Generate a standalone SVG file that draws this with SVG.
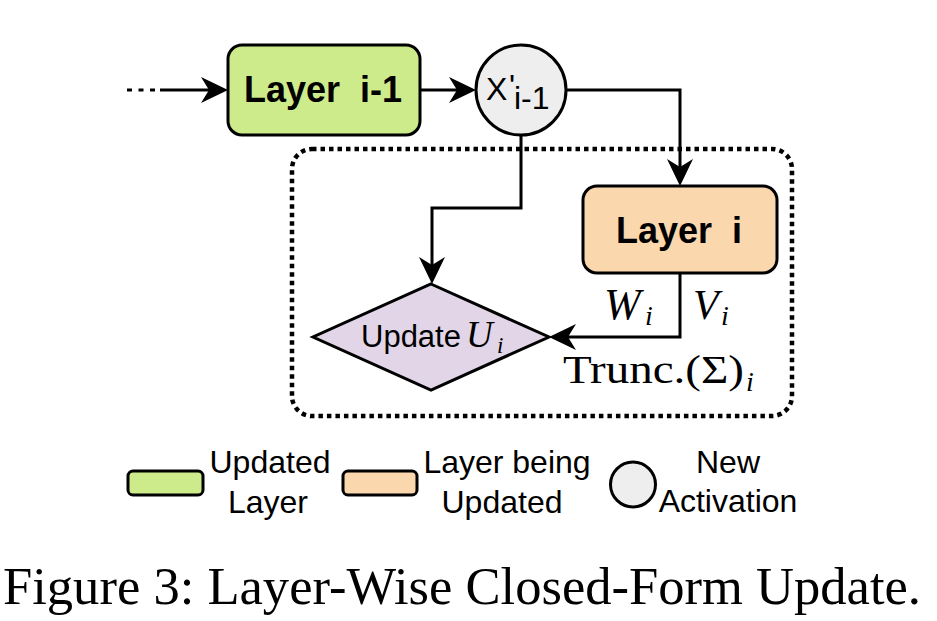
<svg xmlns="http://www.w3.org/2000/svg" width="937" height="621" viewBox="0 0 937 621">
<style>
.sans{font-family:"Liberation Sans",Arial,sans-serif;fill:#000}
.bold{font-weight:bold;font-size:36px;white-space:pre}
.math{font-family:"Liberation Serif","Times New Roman",serif;font-style:italic;fill:#000}
.rm{font-family:"Liberation Serif","Times New Roman",serif;fill:#000}
.node{stroke:#000;stroke-width:3}
.edge{fill:none;stroke:#000;stroke-width:3}
.leg{font-size:32px;text-anchor:middle}
</style>
<defs>
<marker id="arr" markerUnits="userSpaceOnUse" markerWidth="28" markerHeight="26" viewBox="0 0 28 26" refX="19" refY="13" orient="auto">
<path d="M27,13 L0,0 L8,13 L0,26 Z" fill="#000"/>
</marker>
</defs>
<rect x="292" y="149" width="500" height="267" rx="20" fill="none" stroke="#000" stroke-width="4.5" stroke-dasharray="4.5 4"/>
<g id="connectors">
<path class="edge" d="M127,90 H157" stroke-width="4.5" stroke-dasharray="5 6.5"/>
<path class="edge" d="M160,90 H220" marker-end="url(#arr)"/>
<path class="edge" d="M420,90 H468" marker-end="url(#arr)"/>
<path class="edge" d="M566,90 H680 V178" marker-end="url(#arr)"/>
<path class="edge" d="M521,135 V208 H432 V276" marker-end="url(#arr)"/>
<path class="edge" d="M680,273 V337 H557" marker-end="url(#arr)"/>
</g>
<g id="layer-im1">
<rect class="node" x="228" y="45" width="192" height="90" rx="14" fill="#cdeb8b"/>
<text class="sans bold" x="323" y="102" text-anchor="middle">Layer  i-1</text>
</g>
<g id="activation">
<circle class="node" cx="521" cy="90" r="45" fill="#eeeeee"/>
<text class="sans" font-size="32" x="486" y="100">X</text>
<text class="sans" font-size="32" x="509" y="97">'</text>
<text class="sans" font-size="32" x="514" y="109">i-1</text>
</g>
<g id="layer-i">
<rect class="node" x="583" y="186" width="194" height="87" rx="14" fill="#fad7ac"/>
<text class="sans bold" x="679" y="243" text-anchor="middle">Layer  i</text>
</g>
<g id="update">
<polygon class="node" points="431,284 549,337 431,390 313,337" fill="#e1d5e7"/>
<text class="sans" font-size="31" x="361" y="347">Update</text>
<text class="math" font-size="37" x="466" y="347">U</text>
<text class="math" font-size="23" x="497" y="353">i</text>
</g>
<g id="labels">
<text class="math" font-size="44" x="604" y="319">W</text>
<text class="math" font-size="28" x="645" y="325">i</text>
<text class="math" font-size="42" x="693" y="319">V</text>
<text class="math" font-size="28" x="721" y="325">i</text>
<text class="rm" font-size="39" x="563" y="383" textLength="181" lengthAdjust="spacingAndGlyphs">Trunc.(Σ)</text>
<text class="math" font-size="28" x="746" y="391">i</text>
</g>
<g id="legend">
<rect class="node" x="128" y="471" width="75" height="24" rx="5" fill="#cdeb8b"/>
<text class="sans leg" x="270" y="473">Updated</text>
<text class="sans leg" x="268" y="513">Layer</text>
<rect class="node" x="343" y="471" width="74" height="24" rx="5" fill="#fad7ac"/>
<text class="sans leg" x="507" y="473">Layer being</text>
<text class="sans leg" x="502" y="513">Updated</text>
<circle class="node" cx="633" cy="484.5" r="22.5" fill="#eeeeee"/>
<text class="sans leg" x="728" y="473">New</text>
<text class="sans leg" x="728" y="512">Activation</text>
</g>
<text class="rm" font-size="52" x="3" y="604" textLength="918" lengthAdjust="spacingAndGlyphs">Figure 3: Layer-Wise Closed-Form Update.</text>
</svg>
